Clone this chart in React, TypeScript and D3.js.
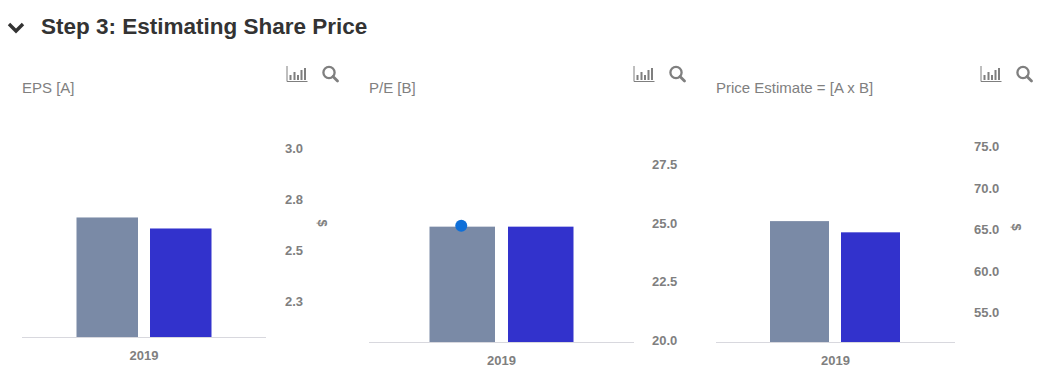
import React from "react";
import * as d3 from "d3";

const title = "Step 3: Estimating Share Price";
const years = ["2019"];
const seriesKeys = ["actual", "estimate"];
const seriesColors = ["#7a8aa6", "#3232cc"];

const epsValues = [2.657, 2.603];
const epsTicks = [3.0, 2.75, 2.5, 2.25];
const epsLabels = ["3.0", "2.8", "2.5", "2.3"];

const peValues = [24.83, 24.83];
const peTicks = [27.5, 25.0, 22.5, 20.0];
const peLabels = ["27.5", "25.0", "22.5", "20.0"];
const peMarker = 24.83;

const priceValues = [65.95, 64.6];
const priceTicks = [75, 70, 65, 60, 55];
const priceLabels = ["75.0", "70.0", "65.0", "60.0", "55.0"];

const GREY = "#7f7f7f";

type PanelProps = {
  label: string; labelX: number; labelY: number;
  values: number[]; ticks: number[]; tickLabels: string[];
  axisL: number; axisR: number; baseY: number;
  barL: number; barR: number; gap: number;
  tick0: number; tickY0: number; tick1: number; tickY1: number;
  tickX: number; iconX: number; iconY: number;
  dollar?: [number, number]; marker?: number;
};

function Icons({ x, y }: { x: number; y: number }) {
  const bars = [
    [4, 5], [8, 8], [11.5, 5], [15, 10], [18.5, 12],
  ];
  return (
    <g transform={`translate(${x},${y})`} fill="none" stroke={GREY}>
      <path d="M0.5,0 V15.5 H21" strokeWidth={1} />
      {bars.map(([bx, h], i) => (
        <rect key={i} x={bx - 1} y={14 - h} width={2} height={h} fill={GREY} stroke="none" />
      ))}
      <circle cx={42.5} cy={6.5} r={5.6} strokeWidth={2.3} />
      <path d="M46.5,10.5 L51,15" strokeWidth={2.8} strokeLinecap="round" />
    </g>
  );
}

function Panel(p: PanelProps) {
  const y = d3.scaleLinear().domain([p.tick0, p.tick1]).range([p.tickY0, p.tickY1]);
  const x0 = d3.scaleBand<string>().domain(years).range([p.axisL, p.axisR]);
  const barW = (p.barR - p.barL - p.gap) / 2;
  const x1 = d3.scaleBand<string>().domain(seriesKeys).range([p.barL, p.barR])
    .paddingInner(p.gap / (barW + p.gap));
  return (
    <g>
      <text x={p.labelX} y={p.labelY} fontSize={15} fill="#808080">{p.label}</text>
      <Icons x={p.iconX} y={p.iconY} />
      {p.values.map((v, i) => (
        <rect key={i} x={x1(seriesKeys[i])} y={y(v)} width={x1.bandwidth()}
          height={p.baseY - y(v)} fill={seriesColors[i]} />
      ))}
      <line x1={p.axisL} x2={p.axisR} y1={p.baseY + 0.5} y2={p.baseY + 0.5} stroke="#d8d8de" strokeWidth={1} />
      {years.map(yr => (
        <text key={yr} x={x0(yr)! + x0.bandwidth() / 2} y={p.baseY + 23} textAnchor="middle"
          fontSize={13} fontWeight={700} fill={GREY}>{yr}</text>
      ))}
      {p.ticks.map((t, i) => (
        <text key={t} x={p.tickX} y={y(t) + 5} fontSize={13} fontWeight={700} fill={GREY}>{p.tickLabels[i]}</text>
      ))}
      {p.dollar && (
        <text transform={`translate(${p.dollar[0]},${p.dollar[1]}) rotate(90)`} textAnchor="middle"
          fontSize={13} fontWeight={700} fill={GREY}>$</text>
      )}
      {p.marker !== undefined && (
        <circle cx={x1(seriesKeys[0])! + x1.bandwidth() / 2 - 1} cy={y(p.marker) - 1} r={6} fill="#0f6fd8" />
      )}
    </g>
  );
}

export default function App() {
  return (
    <svg width={1055} height={388} style={{ position: "absolute", left: 0, top: 0, background: "#fff" }}
      fontFamily="'Liberation Sans', Arial, sans-serif">
      <path d="M9,24 L16,31 L23,24" fill="none" stroke="#333" strokeWidth={3.4} />
      <text x={41} y={34} fontSize={22.5} fontWeight={700} fill="#333">{title}</text>
      <Panel label="EPS [A]" labelX={22} labelY={93} values={epsValues} ticks={epsTicks} tickLabels={epsLabels}
        axisL={22} axisR={266} baseY={337} barL={76.5} barR={211.5} gap={12}
        tick0={3} tickY0={147.5} tick1={2.25} tickY1={300.5} tickX={285} iconX={286.5} iconY={66} dollar={[318, 223]} />
      <Panel label="P/E [B]" labelX={369} labelY={93} values={peValues} ticks={peTicks} tickLabels={peLabels}
        axisL={369} axisR={634} baseY={342} barL={429.5} barR={573.5} gap={13}
        tick0={27.5} tickY0={164} tick1={20} tickY1={340} tickX={652} iconX={633.5} iconY={66} marker={peMarker} />
      <Panel label="Price Estimate = [A x B]" labelX={716} labelY={93} values={priceValues} ticks={priceTicks} tickLabels={priceLabels}
        axisL={716} axisR={955} baseY={342} barL={770} barR={900} gap={12}
        tick0={75} tickY0={146} tick1={55} tickY1={312} tickX={974} iconX={980.5} iconY={66} dollar={[1012, 227]} />
    </svg>
  );
}
